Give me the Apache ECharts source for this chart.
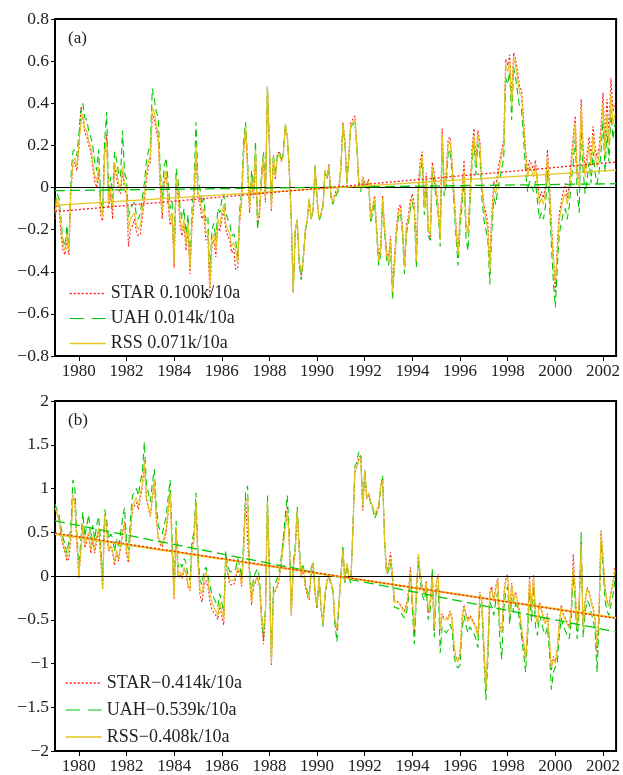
<!DOCTYPE html>
<html><head><meta charset="utf-8">
<script src="https://cdn.jsdelivr.net/npm/echarts@6/dist/echarts.min.js"></script>
<style>html,body{margin:0;padding:0;background:#fff}#c{width:623px;height:775px}</style>
</head><body><div id="c"></div>
<script>
// monthly anomalies, January 1979 onward
const startYear = 1979;
const xMin = 1979, xMax = 2002.55;
const xTickLabels = [1980,1982,1984,1986,1988,1990,1992,1994,1996,1998,2000,2002];

const rssA = [
-0.12,-0.05,-0.08,-0.18,-0.27,-0.30,-0.22,-0.30,0.00,0.12,0.14,0.10,
0.20,0.30,0.35,0.28,0.27,0.22,0.20,0.12,0.06,0.03,0.10,-0.10,
-0.14,0.17,0.22,-0.07,0.00,-0.10,0.12,0.08,0.02,0.00,0.10,0.02,
0.00,-0.20,-0.15,-0.15,-0.12,-0.18,-0.20,-0.18,-0.10,-0.03,0.06,0.12,
0.15,0.38,0.36,0.30,0.25,0.02,-0.12,0.05,0.08,-0.05,-0.15,-0.12,
-0.36,0.05,-0.02,-0.15,-0.20,-0.15,-0.27,-0.17,-0.39,-0.15,-0.05,0.20,
-0.02,-0.05,-0.12,-0.10,-0.22,-0.20,-0.48,-0.25,-0.22,-0.30,-0.15,-0.18,
-0.12,-0.08,-0.17,-0.20,-0.22,-0.28,-0.26,-0.30,-0.36,-0.15,-0.05,0.18,
0.29,0.10,-0.10,0.05,-0.03,0.18,-0.15,-0.12,0.05,0.15,-0.05,0.48,
0.20,-0.10,0.15,0.05,0.14,0.16,0.12,0.15,0.30,0.25,0.08,-0.15,
-0.50,-0.20,-0.15,-0.35,-0.40,-0.35,-0.20,-0.15,-0.05,-0.15,-0.10,0.10,
-0.05,-0.15,-0.12,-0.08,0.08,0.05,0.10,-0.05,-0.07,-0.04,-0.02,0.00,
0.10,0.30,0.22,0.02,0.15,0.30,0.30,0.32,0.20,0.02,-0.01,0.04,
0.02,0.00,0.03,-0.15,-0.10,-0.05,-0.20,-0.35,-0.30,-0.05,-0.20,-0.32,
-0.35,-0.25,-0.50,-0.35,-0.20,-0.12,-0.10,-0.20,-0.38,-0.20,-0.15,-0.08,
-0.05,-0.10,-0.35,0.00,0.10,0.15,-0.10,0.05,-0.20,-0.22,0.10,0.05,
0.05,-0.10,-0.25,0.25,0.00,0.05,0.20,0.22,0.10,-0.05,-0.20,-0.32,
-0.15,-0.05,0.08,-0.20,-0.22,-0.05,0.15,0.25,0.10,0.25,0.20,0.00,
-0.10,-0.15,-0.20,-0.40,-0.15,0.00,-0.03,0.05,0.10,0.15,0.20,0.58,
0.55,0.60,0.38,0.62,0.58,0.58,0.45,0.43,0.30,0.15,0.05,0.10,
0.08,0.05,0.10,0.00,-0.08,-0.05,-0.08,-0.02,0.15,0.00,-0.20,-0.35,
-0.45,-0.30,-0.15,-0.10,-0.05,-0.03,-0.08,-0.02,0.10,0.20,0.30,0.05,
0.00,0.38,0.15,0.05,0.12,0.20,0.10,0.25,0.15,0.10,0.15,0.25,
0.40,0.15,0.35,0.20,0.45,0.30,0.35];

const starA = [
-0.15,-0.07,-0.10,-0.22,-0.30,-0.32,-0.25,-0.32,-0.02,0.10,0.12,0.08,
0.18,0.38,0.33,0.26,0.24,0.20,0.17,0.10,0.03,0.00,0.07,-0.13,
-0.16,0.15,0.25,-0.10,-0.03,-0.15,0.10,0.05,-0.01,-0.03,0.08,-0.01,
-0.03,-0.28,-0.20,-0.18,-0.15,-0.21,-0.23,-0.22,-0.14,-0.06,0.03,0.10,
0.12,0.35,0.33,0.27,0.22,-0.01,-0.15,0.02,0.05,-0.08,-0.18,-0.15,
-0.38,0.02,-0.05,-0.18,-0.23,-0.18,-0.30,-0.20,-0.41,-0.18,-0.08,0.17,
-0.05,-0.08,-0.15,-0.13,-0.25,-0.23,-0.52,-0.28,-0.25,-0.33,-0.18,-0.21,
-0.15,-0.11,-0.20,-0.23,-0.25,-0.31,-0.29,-0.39,-0.38,-0.17,-0.07,0.16,
0.27,0.08,-0.12,0.03,-0.05,0.16,-0.17,-0.14,0.03,0.13,-0.07,0.47,
0.19,-0.11,0.14,0.04,0.16,0.17,0.13,0.16,0.29,0.24,0.07,-0.16,
-0.50,-0.21,-0.16,-0.36,-0.42,-0.36,-0.21,-0.16,-0.06,-0.15,-0.10,0.10,
-0.05,-0.15,-0.12,-0.08,0.08,0.05,0.11,-0.04,-0.06,-0.03,-0.01,0.01,
0.10,0.31,0.23,0.03,0.16,0.31,0.31,0.34,0.21,0.03,0.00,0.05,
0.03,0.01,0.04,-0.14,-0.09,-0.04,-0.19,-0.33,-0.28,-0.04,-0.18,-0.30,
-0.33,-0.23,-0.48,-0.33,-0.18,-0.10,-0.08,-0.18,-0.36,-0.18,-0.13,-0.06,
-0.03,-0.08,-0.33,0.02,0.13,0.17,-0.08,0.07,-0.18,-0.25,0.12,0.07,
0.07,-0.08,-0.23,0.28,0.02,0.07,0.23,0.24,0.12,-0.03,-0.18,-0.30,
-0.13,-0.03,0.13,-0.18,-0.20,-0.03,0.18,0.28,0.12,0.27,0.22,0.02,
-0.08,-0.12,-0.17,-0.37,-0.12,0.03,0.00,0.08,0.13,0.18,0.23,0.61,
0.58,0.63,0.42,0.64,0.61,0.61,0.48,0.46,0.33,0.18,0.08,0.13,
0.11,0.08,0.13,0.03,-0.05,-0.02,-0.05,0.01,0.18,0.03,-0.17,-0.32,
-0.50,-0.27,-0.12,-0.07,-0.02,0.02,-0.05,0.01,0.14,0.24,0.34,0.08,
0.04,0.42,0.19,0.09,0.16,0.24,0.14,0.29,0.19,0.14,0.19,0.29,
0.45,0.20,0.42,0.25,0.52,0.36,0.40];

const uahA = [
-0.08,-0.03,-0.05,-0.15,-0.25,-0.28,-0.18,-0.28,0.05,0.17,0.18,0.15,
0.25,0.36,0.40,0.33,0.32,0.27,0.24,0.20,0.12,0.08,0.18,-0.05,
-0.10,0.22,0.36,-0.03,0.05,-0.05,0.17,0.13,0.07,0.05,0.27,0.07,
0.04,-0.14,-0.10,-0.10,-0.07,-0.13,-0.15,-0.12,-0.05,0.02,0.12,0.17,
0.20,0.47,0.42,0.36,0.33,0.08,-0.05,0.10,0.14,0.02,-0.10,-0.07,
-0.33,0.09,0.03,-0.10,-0.15,-0.10,-0.22,-0.13,-0.37,-0.10,0.00,0.31,
0.03,0.00,-0.08,-0.05,-0.16,-0.14,-0.43,-0.20,-0.17,-0.25,-0.10,-0.12,
-0.06,-0.03,-0.12,-0.15,-0.17,-0.23,-0.22,-0.25,-0.34,-0.11,-0.02,0.22,
0.31,0.13,-0.08,0.08,-0.01,0.22,-0.20,-0.10,0.07,0.17,-0.03,0.48,
0.21,-0.08,0.16,0.06,0.15,0.17,0.13,0.16,0.30,0.25,0.09,-0.15,
-0.49,-0.20,-0.15,-0.36,-0.44,-0.44,-0.22,-0.16,-0.05,-0.15,-0.11,0.11,
-0.06,-0.16,-0.13,-0.09,0.07,0.04,0.09,-0.06,-0.08,-0.05,-0.03,-0.01,
0.09,0.29,0.21,0.01,0.14,0.29,0.29,0.31,0.19,0.01,-0.02,0.03,
0.01,-0.01,0.01,-0.17,-0.12,-0.07,-0.22,-0.37,-0.32,-0.07,-0.22,-0.34,
-0.37,-0.27,-0.53,-0.37,-0.22,-0.14,-0.12,-0.22,-0.41,-0.22,-0.17,-0.10,
-0.07,-0.12,-0.38,-0.02,0.08,0.12,-0.13,0.02,-0.23,-0.25,0.07,0.02,
0.02,-0.13,-0.28,0.21,-0.04,0.01,0.16,0.18,0.06,-0.09,-0.24,-0.37,
-0.19,-0.09,0.04,-0.24,-0.30,-0.09,0.11,0.21,0.06,0.21,0.15,-0.05,
-0.15,-0.20,-0.25,-0.46,-0.21,-0.05,-0.08,-0.01,0.04,0.09,0.14,0.52,
0.49,0.55,0.32,0.57,0.52,0.52,0.38,0.37,0.23,0.08,-0.02,0.03,
0.01,-0.02,0.03,-0.07,-0.15,-0.12,-0.15,-0.09,0.08,-0.07,-0.27,-0.45,
-0.57,-0.37,-0.22,-0.17,-0.12,-0.10,-0.15,-0.09,0.03,0.12,0.23,-0.02,
-0.12,0.30,0.08,-0.03,0.04,0.12,0.02,0.17,0.07,0.02,0.07,0.17,
0.32,0.07,0.27,0.12,0.37,0.23,0.30];

const rssB = [
0.78,0.80,0.65,0.50,0.38,0.30,0.20,0.22,0.45,0.90,0.85,0.40,
0.00,0.30,0.60,0.35,0.45,0.50,0.30,0.45,0.30,0.45,0.55,0.25,
-0.15,0.70,0.55,0.30,0.35,0.30,0.15,0.30,0.20,0.35,0.50,0.60,
0.30,0.18,0.50,0.80,0.82,0.90,0.80,0.95,1.05,1.30,0.90,0.80,
0.70,0.90,1.10,0.70,0.45,0.40,0.35,0.45,0.55,0.75,0.95,0.30,
-0.25,0.55,0.00,0.05,0.00,0.10,0.05,-0.10,-0.15,0.30,0.40,0.85,
0.20,-0.15,-0.20,-0.05,0.05,-0.05,-0.20,-0.30,-0.36,-0.40,-0.45,-0.30,
-0.40,-0.50,0.20,0.05,-0.05,-0.05,-0.05,0.00,0.10,0.05,-0.10,0.30,
0.85,0.90,0.00,-0.30,-0.10,-0.05,0.00,-0.10,-0.45,-0.62,-0.40,0.85,
0.00,-1.00,-0.20,-0.15,-0.10,0.00,0.15,0.35,0.55,0.75,0.40,-0.45,
0.10,0.30,0.75,0.30,0.00,0.10,-0.10,-0.20,-0.25,0.05,0.15,-0.20,
-0.35,0.00,-0.35,-0.55,-0.20,-0.05,0.00,-0.02,-0.15,-0.50,-0.60,-0.30,
0.00,0.30,-0.05,0.15,0.00,-0.05,0.50,1.20,1.25,1.32,1.35,0.80,
1.20,0.90,0.95,0.85,0.80,0.70,0.70,0.80,1.00,1.10,0.40,0.05,
0.10,0.20,0.00,-0.30,-0.30,-0.30,-0.30,-0.38,-0.42,-0.35,-0.20,0.05,
0.05,-0.60,-0.20,0.25,0.00,-0.15,-0.20,-0.08,-0.40,-0.30,0.00,-0.60,
-0.10,0.00,-0.60,-0.45,-0.50,-0.52,-0.50,-0.42,-0.50,-0.80,-0.95,-0.98,
-0.90,-0.50,-0.35,-0.45,-0.52,-0.47,-0.48,-0.55,-0.60,-0.70,-0.20,-0.30,
-0.80,-1.30,-0.85,-0.20,-0.15,-0.30,-0.15,-0.05,-0.60,-0.65,-0.25,-0.05,
0.00,-0.45,-0.10,-0.30,-0.20,-0.22,-0.40,-0.58,-0.75,-0.95,-0.60,-0.05,
-0.40,0.00,-0.45,-0.55,-0.32,-0.40,-0.50,-0.55,-0.45,-0.70,-1.05,-0.95,
-1.00,-0.85,-0.55,-0.35,-0.45,-0.50,-0.55,-0.60,-0.40,0.10,-0.20,-0.60,
-0.30,0.35,-0.60,-0.30,-0.15,-0.20,-0.30,-0.38,-0.50,-0.80,-0.40,0.50,
0.20,-0.15,-0.30,-0.35,-0.20,-0.10,0.05];

const starB = [
0.78,0.79,0.64,0.48,0.35,0.27,0.17,0.20,0.43,0.92,0.83,0.38,
-0.02,0.28,0.58,0.32,0.40,0.47,0.26,0.40,0.26,0.40,0.52,0.20,
-0.16,0.68,0.52,0.28,0.33,0.27,0.12,0.27,0.17,0.32,0.48,0.62,
0.25,0.15,0.48,0.76,0.78,0.84,0.76,0.90,1.02,1.32,0.88,0.78,
0.68,0.88,1.08,0.66,0.42,0.36,0.33,0.40,0.50,0.72,0.98,0.28,
-0.27,0.52,-0.02,0.02,-0.03,0.08,0.03,-0.12,-0.17,0.33,0.44,0.82,
0.15,-0.22,-0.30,-0.12,-0.05,-0.12,-0.28,-0.38,-0.42,-0.45,-0.50,-0.35,
-0.45,-0.56,0.18,0.02,-0.10,-0.10,-0.10,-0.03,0.07,0.03,-0.12,0.28,
0.88,0.88,-0.02,-0.33,-0.12,-0.07,-0.02,-0.13,-0.50,-0.78,-0.45,0.82,
0.00,-1.02,-0.22,-0.17,-0.12,-0.02,0.15,0.45,0.58,0.80,0.38,-0.45,
0.08,0.28,0.72,0.28,-0.02,0.08,-0.12,-0.22,-0.27,0.03,0.13,-0.22,
-0.37,-0.02,-0.37,-0.55,-0.22,-0.05,0.02,0.04,-0.15,-0.55,-0.62,-0.32,
0.00,0.28,-0.06,0.14,0.00,-0.05,0.48,1.18,1.24,1.35,1.38,0.75,
1.18,0.88,0.92,0.84,0.78,0.70,0.68,0.78,1.02,1.12,0.42,0.05,
0.12,0.27,0.02,-0.28,-0.28,-0.30,-0.28,-0.36,-0.40,-0.32,-0.18,0.10,
0.08,-0.65,-0.18,0.25,0.02,-0.12,-0.18,-0.06,-0.42,-0.28,0.02,-0.62,
-0.08,0.02,-0.62,-0.43,-0.48,-0.50,-0.48,-0.40,-0.48,-0.82,-0.93,-0.96,
-0.88,-0.48,-0.33,-0.43,-0.50,-0.45,-0.46,-0.53,-0.58,-0.68,-0.18,-0.28,
-0.78,-1.28,-0.83,-0.18,-0.12,-0.28,-0.12,-0.03,-0.58,-0.63,-0.22,-0.03,
0.02,-0.43,-0.08,-0.28,-0.18,-0.20,-0.42,-0.62,-0.80,-0.95,-0.58,0.00,
-0.38,0.02,-0.43,-0.53,-0.30,-0.38,-0.48,-0.53,-0.43,-0.75,-1.08,-0.92,
-0.98,-0.82,-0.53,-0.33,-0.43,-0.48,-0.53,-0.58,-0.38,0.25,-0.18,-0.58,
-0.28,0.38,-0.58,-0.28,-0.13,-0.18,-0.28,-0.36,-0.48,-0.88,-0.38,0.52,
0.22,-0.13,-0.28,-0.33,-0.18,-0.08,0.10];

const uahB = [
0.82,0.84,0.70,0.56,0.44,0.36,0.26,0.28,0.55,1.10,1.00,0.50,
0.08,0.40,0.73,0.45,0.58,0.70,0.42,0.58,0.42,0.58,0.68,0.38,
-0.05,0.76,0.65,0.42,0.48,0.44,0.28,0.42,0.32,0.48,0.65,0.78,
0.42,0.30,0.65,0.92,0.95,1.00,0.92,1.08,1.18,1.53,1.05,0.95,
0.85,1.05,1.22,0.82,0.58,0.52,0.48,0.58,0.68,0.90,1.10,0.42,
-0.15,0.63,0.10,0.15,0.10,0.20,0.15,0.00,-0.05,0.40,0.50,0.95,
0.28,-0.05,-0.10,0.05,0.10,0.02,-0.12,-0.20,-0.25,-0.30,-0.35,-0.20,
-0.30,-0.42,0.28,0.12,0.05,0.05,0.05,0.08,0.20,0.12,-0.02,0.40,
0.95,1.03,0.08,-0.22,-0.02,0.04,0.08,-0.02,-0.40,-0.72,-0.35,0.92,
0.08,-0.95,-0.12,-0.08,-0.02,0.07,0.22,0.42,0.70,0.92,0.48,-0.40,
0.15,0.35,0.79,0.35,0.04,0.14,-0.06,-0.17,-0.22,0.08,0.17,-0.18,
-0.36,0.00,-0.38,-0.58,-0.22,-0.07,-0.02,-0.04,-0.18,-0.55,-0.75,-0.33,
0.00,0.35,-0.08,0.13,-0.02,-0.08,0.52,1.25,1.30,1.42,1.38,0.80,
1.22,0.90,0.93,0.83,0.77,0.66,0.65,0.76,1.00,1.15,0.38,0.02,
0.06,0.15,-0.04,-0.36,-0.36,-0.37,-0.37,-0.45,-0.48,-0.42,-0.27,-0.02,
-0.02,-0.78,-0.27,0.18,-0.07,-0.22,-0.28,-0.16,-0.50,-0.38,0.08,-0.70,
-0.20,-0.10,-0.88,-0.58,-0.62,-0.65,-0.62,-0.55,-0.62,-0.92,-1.02,-1.05,
-1.02,-0.62,-0.45,-0.56,-0.65,-0.58,-0.60,-0.66,-0.72,-0.82,-0.32,-0.40,
-0.92,-1.42,-0.98,-0.30,-0.35,-0.45,-0.28,-0.18,-0.72,-0.95,-0.38,-0.18,
-0.12,-0.55,-0.25,-0.42,-0.32,-0.35,-0.52,-0.70,-0.88,-1.10,-0.72,-0.18,
-0.52,-0.12,-0.58,-0.68,-0.45,-0.52,-0.62,-0.67,-0.58,-0.85,-1.30,-1.10,
-1.12,-0.98,-0.68,-0.48,-0.58,-0.62,-0.68,-0.72,-0.52,0.05,-0.32,-0.72,
-0.42,0.50,-0.70,-0.42,-0.28,-0.32,-0.42,-0.50,-0.62,-1.10,-0.52,0.40,
0.10,-0.27,-0.40,-0.45,-0.32,-0.22,-0.05];

// legend labels and linear trends (per decade), trend value at start year
const namesA = ['STAR 0.100k/10a', 'UAH 0.014k/10a', 'RSS 0.071k/10a'];
const namesB = ['STAR\u22120.414k/10a', 'UAH\u22120.539k/10a', 'RSS\u22120.408k/10a'];
const slopesA = [0.100, 0.014, 0.071];
const slopesB = [-0.414, -0.539, -0.408];
const trendStartA = [-0.115, -0.015, -0.085];
const trendStartB = [0.49, 0.63, 0.48];
const yTicksA = {min: -0.8, max: 0.8, step: 0.2};
const yTicksB = {min: -2, max: 2, step: 0.5};

const FONT = '"Liberation Serif", "Times New Roman", serif';
const colors = ['#ff1a1a', '#00c800', '#e6c41c'];
const dataTypes = [[2, 2], [7, 4], 'solid'];
const trendTypes = [[2, 2], [10, 5], 'solid'];
const legendLineTypes = [[2, 2], [14, 8], 'solid'];

function toXY(arr) { return arr.map((v, i) => [startYear + i / 12, v]); }
function minus(s) { return String(s).replace('-', '\u2212'); }

function panelSeries(k, names, arrays, slopes, starts) {
  const out = [];
  arrays.forEach((arr, j) => {
    out.push({
      name: names[j], type: 'line', xAxisIndex: k, yAxisIndex: k,
      data: toXY(arr), showSymbol: false, symbol: 'none', smooth: false,
      lineStyle: { color: colors[j], width: 1.1, type: dataTypes[j] },
      itemStyle: { color: colors[j] },
      z: 2 + j, silent: true, animation: false,
      markLine: j === 0 ? {
        silent: true, symbol: ['none', 'none'], label: { show: false },
        lineStyle: { color: '#000', width: 1, type: 'solid' },
        data: [{ yAxis: 0 }], animation: false
      } : undefined
    });
  });
  arrays.forEach((arr, j) => {
    const y0 = starts[j];
    const y1 = y0 + slopes[j] * (xMax - xMin) / 10;
    out.push({
      name: names[j] + ' trend', type: 'line', xAxisIndex: k, yAxisIndex: k,
      data: [[xMin, y0], [xMax, y1]], showSymbol: false, symbol: 'none',
      lineStyle: { color: colors[j], width: k === 1 && j === 2 ? 2 : 1.3, type: trendTypes[j] },
      z: 6 + (j === 0 ? 2 : j === 2 ? 1 : 0), silent: true, animation: false
    });
  });
  return out;
}

const xAxisBase = (k) => ({
  type: 'value', gridIndex: k, min: xMin, max: xMax,
  axisLine: { show: true, onZero: false, lineStyle: { color: '#000', width: 2 } },
  axisTick: { show: true, inside: false, length: 5, customValues: xTickLabels, lineStyle: { color: '#000', width: 1 } },
  axisLabel: { customValues: xTickLabels, margin: 7, color: '#222', fontFamily: FONT, fontSize: 17, formatter: v => String(Math.round(v)) },
  splitLine: { show: false }
});
const yAxisBase = (k, t, fmt) => ({
  type: 'value', gridIndex: k, min: t.min, max: t.max, interval: t.step,
  axisLine: { show: true, onZero: false, lineStyle: { color: '#000', width: 2 } },
  axisTick: { show: true, inside: false, length: 4, lineStyle: { color: '#000', width: 1 } },
  axisLabel: { margin: 6, color: '#222', fontFamily: FONT, fontSize: 17.5, formatter: fmt },
  splitLine: { show: false }
});

const legendText = { fontFamily: FONT, fontSize: 18, color: '#222' };
const legendItems = (names) => names.map((n, j) => ({
  name: n,
  lineStyle: { color: colors[j], type: legendLineTypes[j], width: j === 0 ? 1.5 : j === 2 ? 1.4 : 1.2 }
}));
const chart = echarts.init(document.getElementById('c'), null, { renderer: 'canvas' });
chart.setOption({
  backgroundColor: '#fff',
  animation: false,
  title: [
    { text: '(a)', left: 63, top: 25, textStyle: { fontFamily: FONT, fontSize: 17, fontWeight: 'normal', color: '#222' } },
    { text: '(b)', left: 63, top: 407, textStyle: { fontFamily: FONT, fontSize: 17, fontWeight: 'normal', color: '#222' } }
  ],
  grid: [
    { left: 55, top: 19, width: 562, height: 337, show: true, borderColor: '#000', borderWidth: 2, backgroundColor: 'transparent' },
    { left: 55, top: 401, width: 562, height: 350, show: true, borderColor: '#000', borderWidth: 2, backgroundColor: 'transparent' }
  ],
  legend: [
    { data: legendItems(namesA), orient: 'vertical', left: 64, top: 279, itemWidth: 36, itemHeight: 12, itemGap: 6,
      itemStyle: { opacity: 0 },
      textStyle: Object.assign({ lineHeight: 19 }, legendText), selectedMode: false },
    { data: legendItems(namesB), orient: 'vertical', left: 60, top: 668, itemWidth: 36, itemHeight: 12, itemGap: 7,
      itemStyle: { opacity: 0 },
      textStyle: Object.assign({ lineHeight: 20 }, legendText), selectedMode: false }
  ],
  xAxis: [xAxisBase(0), xAxisBase(1)],
  yAxis: [
    yAxisBase(0, yTicksA, v => Math.abs(v) < 1e-9 ? '0' : minus(v.toFixed(1))),
    yAxisBase(1, yTicksB, v => Math.abs(v) < 1e-9 ? '0' : minus(String(Math.round(v * 10) / 10)))
  ],
  series: [].concat(
    panelSeries(0, namesA, [starA, uahA, rssA], slopesA, trendStartA),
    panelSeries(1, namesB, [starB, uahB, rssB], slopesB, trendStartB)
  )
});
</script>
</body></html>
